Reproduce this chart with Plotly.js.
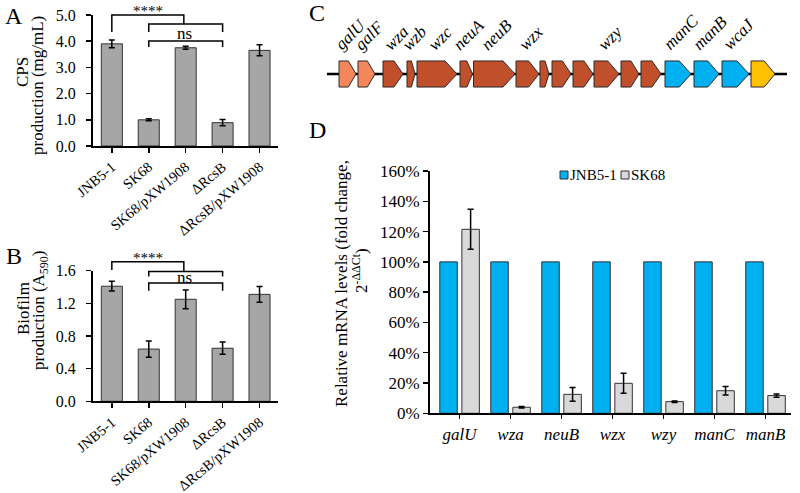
<!DOCTYPE html>
<html>
<head>
<meta charset="utf-8">
<script src="https://cdn.plot.ly/plotly-3.0.1.min.js"></script>
<style>
  html, body { margin: 0; padding: 0; background: #fff; }
  #plotly_graph { width: 800px; height: 493px; }
</style>
</head>
<body>
<div id="plotly_graph"></div>
<script>
    // *********************************************************************************************
    // DATA

    const STRAINS = ["JNB5-1", "SK68", "SK68/pXW1908", "ΔRcsB", "ΔRcsB/pXW1908"]

    const CPS = [3.90, 1.00, 3.75, 0.89, 3.65]
    const CPS_ERR = [0.15, 0.04, 0.06, 0.12, 0.21]

    const BIOFILM = [1.41, 0.64, 1.25, 0.65, 1.31]
    const BIOFILM_ERR = [0.06, 0.10, 0.115, 0.075, 0.095]

    // gene cluster (map units along the locus)
    const GENE_NAMES = ["galU", "galF", "wza", "wzb", "wzc", "neuA", "neuB", "wzx", "", "", "",
                        "wzy", "", "", "manC", "manB", "wcaJ", ""]
    const GENE_START = [12, 31, 56, 80, 90, 133, 146.5, 189, 213, 225, 246, 267, 294, 314, 338, 367, 395, 424]
    const GENE_END = [29, 48, 76, 88, 130, 145.5, 188, 212, 222, 244, 266, 292, 312, 334, 364, 392, 422, 448]
    const GENE_GROUP = ["gal", "gal", "cps", "cps", "cps", "cps", "cps", "cps", "cps", "cps", "cps",
                        "cps", "cps", "cps", "man", "man", "man", "other"]
    const LOCUS_LEN = 460

    const GENES_QPCR = ["galU", "wza", "neuB", "wzx", "wzy", "manC", "manB"]
    const JNB_REL = [100, 100, 100, 100, 100, 100, 100]
    const SK68_REL = [121.5, 4.0, 12.5, 19.8, 7.7, 14.9, 11.7]
    const SK68_ERR = [13.2, 0.5, 4.5, 6.6, 0.5, 2.8, 1.1]


    // *********************************************************************************************
    // STYLE

    const FONT = "Liberation Serif, Times New Roman, serif"
    const GREY_BAR = "#A6A6A6"
    const BAR_EDGE = "#333333"
    const JNB_COLOR = "#00B0F0"
    const SK68_COLOR = "#D9D9D9"
    const GROUP_COLORS = { gal: "#F4865C", cps: "#C0502B", man: "#00B0F0", other: "#FFC000" }

    const px = (x) => x / 800
    const py = (y) => (493 - y) / 493

    const xIdx = STRAINS.map((_, i) => i)
    const qIdx = GENES_QPCR.map((_, i) => i)

    // plot boxes (pixels) for panels A, B
    const A_TOP = 15, A_BOT = 146, A_MAX = 5
    const B_TOP = 270.7, B_BOT = 401.3, B_MAX = 1.6
    // extended (invisible) y axes with the same scale, so brackets above the top tick are not clipped
    const A_EXT = A_MAX * A_BOT / (A_BOT - A_TOP)
    const B_EXT = B_MAX * (B_BOT - 232) / (B_BOT - B_TOP)

    let data = []


    // *********************************************************************************************
    // PANEL A / B BARS

    const strainBar = (vals, errs, xa, ya) => ({
        type: "bar", x: xIdx, y: vals, width: 0.57,
        xaxis: xa, yaxis: ya,
        marker: { color: GREY_BAR, line: { color: BAR_EDGE, width: 1 } },
        error_y: { type: "data", array: errs, color: "#000", thickness: 1.5, width: 3 },
        showlegend: false, hoverinfo: "skip"
    })

    data.push(strainBar(CPS, CPS_ERR, "x", "y"))
    data.push(strainBar(BIOFILM, BIOFILM_ERR, "x2", "y2"))

    // significance brackets
    const bracket = (xs, ys, xa, ya) => ({
        type: "scatter", mode: "lines", x: xs, y: ys, xaxis: xa, yaxis: ya,
        line: { color: "#000", width: 1.5 }, cliponaxis: false,
        showlegend: false, hoverinfo: "skip"
    })

    data.push(bracket([0, 0, 1.95, 1.95], [4.35, 5.0, 5.0, 4.66], "x5", "y5"))
    data.push(bracket([1, 1, 3, 3], [4.35, 4.66, 4.66, 4.35], "x5", "y5"))
    data.push(bracket([1, 1, 3, 3], [3.78, 4.01, 4.01, 3.78], "x5", "y5"))

    data.push(bracket([0, 0, 1.95, 1.95], [1.61, 1.71, 1.71, 1.59], "x6", "y6"))
    data.push(bracket([1, 1, 3, 3], [1.53, 1.59, 1.59, 1.53], "x6", "y6"))
    data.push(bracket([1, 1, 3, 3], [1.355, 1.45, 1.45, 1.355], "x6", "y6"))


    // *********************************************************************************************
    // PANEL C GENE MAP

    data.push({
        type: "scatter", mode: "lines", x: [0, LOCUS_LEN], y: [0, 0],
        xaxis: "x3", yaxis: "y3", line: { color: "#000", width: 2.5 },
        showlegend: false, hoverinfo: "skip"
    })

    GENE_START.forEach((s, i) => {
        let e = GENE_END[i]
        let head = Math.min((e - s) * 0.45, 12)
        data.push({
            type: "scatter", mode: "lines", fill: "toself",
            x: [s, e - head, e, e - head, s, s],
            y: [-1, -1, 0, 1, 1, -1],
            xaxis: "x3", yaxis: "y3",
            fillcolor: GROUP_COLORS[GENE_GROUP[i]],
            line: { color: "#2a2a2a", width: 1 },
            showlegend: false, hoverinfo: "skip"
        })
    })


    // *********************************************************************************************
    // PANEL D QPCR

    data.push({
        type: "bar", name: "JNB5-1", x: qIdx, y: JNB_REL,
        width: 0.343, offset: -0.388,
        xaxis: "x4", yaxis: "y4",
        marker: { color: JNB_COLOR, line: { color: BAR_EDGE, width: 1 } },
        showlegend: false, hoverinfo: "skip"
    })
    data.push({
        type: "bar", name: "SK68", x: qIdx, y: SK68_REL,
        width: 0.343, offset: 0.045,
        xaxis: "x4", yaxis: "y4",
        marker: { color: SK68_COLOR, line: { color: BAR_EDGE, width: 1 } },
        error_y: { type: "data", array: SK68_ERR, color: "#000", thickness: 1.5, width: 3 },
        showlegend: false, hoverinfo: "skip"
    })


    // *********************************************************************************************
    // ANNOTATIONS

    let annotations = []

    const paperText = (text, x, y, size, angle, xanchor) => ({
        text: text, x: px(x), y: py(y), xref: "paper", yref: "paper",
        xanchor: xanchor || "center", yanchor: "middle",
        showarrow: false, textangle: angle || 0,
        font: { family: FONT, size: size, color: "#000" }
    })

    annotations.push(paperText("A", 14, 16, 24))
    annotations.push(paperText("B", 14, 256, 24))
    annotations.push(paperText("C", 317, 13, 24))
    annotations.push(paperText("D", 317, 130, 24))

    annotations.push(paperText("CPS", 22, 72, 17, -90))
    annotations.push(paperText("production (mg/mL)", 38, 86, 17, -90))
    annotations.push(paperText("Biofilm", 23, 309, 17, -90))
    annotations.push(paperText("production (A<sub>590</sub>)", 40, 311, 17, -90))
    annotations.push(paperText("Relative mRNA levels (fold change,", 342, 284, 17, -90))
    annotations.push(paperText("2<sup>-ΔΔCt</sup>)", 360, 271, 17, -90))

    // compact legend for panel D
    annotations.push(paperText("JNB5-1", 568, 175, 15, 0, "left"))
    annotations.push(paperText("SK68", 629, 175, 15, 0, "left"))

    const dataText = (text, x, y, xa, ya, size) => ({
        text: text, x: x, y: y, xref: xa, yref: ya, showarrow: false,
        xanchor: "center", yanchor: "middle",
        font: { family: FONT, size: size, color: "#000" }
    })

    annotations.push(dataText("****", 0.97, 5.15, "x5", "y5", 15))
    annotations.push(dataText("ns", 1.97, 4.31, "x5", "y5", 17))
    annotations.push(dataText("****", 0.97, 1.75, "x6", "y6", 15))
    annotations.push(dataText("ns", 1.97, 1.515, "x6", "y6", 17))

    GENE_NAMES.forEach((g, i) => {
        if (!g) return
        annotations.push({
            text: "<i>" + g + "</i>",
            x: (GENE_START[i] + GENE_END[i]) / 2 + 3, y: 1,
            xref: "x3", yref: "y3", xanchor: "center", yanchor: "bottom", yshift: 4,
            textangle: -45, showarrow: false,
            font: { family: FONT, size: 17, color: "#000" }
        })
    })

    const swatch = (x, y, color) => ({
        type: "rect", xref: "paper", yref: "paper",
        x0: px(x - 4), x1: px(x + 4), y0: py(y + 4), y1: py(y - 4),
        fillcolor: color, line: { color: BAR_EDGE, width: 1 }
    })

    let shapes = [swatch(564, 175, JNB_COLOR), swatch(625, 175, SK68_COLOR)]


    // *********************************************************************************************
    // LAYOUT

    const baseAxis = {
        showline: true, linecolor: "#000", linewidth: 2,
        ticks: "outside", ticklen: 5, tickwidth: 1.5, tickcolor: "#000",
        showgrid: false, zeroline: false, mirror: false, automargin: false,
        tickfont: { family: FONT, size: 16, color: "#000" }
    }

    const xTickFont = { family: FONT, size: 14.5, color: "#000" }
    const hiddenX = (anchor) => ({
        domain: [px(93), px(278)], range: [-0.51, 4.5], visible: false, anchor: anchor
    })

    let layout = {
        width: 800, height: 493,
        margin: { t: 0, r: 0, b: 0, l: 0 },
        paper_bgcolor: "#fff", plot_bgcolor: "rgba(0,0,0,0)",
        font: { family: FONT, color: "#000" },
        barmode: "overlay",
        showlegend: false,

        xaxis: Object.assign({}, baseAxis, {
            domain: [px(93), px(278)], range: [-0.51, 4.5], anchor: "y",
            tickvals: xIdx, ticktext: STRAINS, tickangle: -40, tickfont: xTickFont
        }),
        yaxis: Object.assign({}, baseAxis, {
            domain: [py(A_BOT), py(A_TOP)], range: [0, A_MAX], dtick: 1, tickformat: ".1f",
            anchor: "x", ticklabelstandoff: 7
        }),

        xaxis2: Object.assign({}, baseAxis, {
            domain: [px(93), px(278)], range: [-0.51, 4.5], anchor: "y2",
            tickvals: xIdx, ticktext: STRAINS, tickangle: -40, tickfont: xTickFont
        }),
        yaxis2: Object.assign({}, baseAxis, {
            domain: [py(B_BOT), py(B_TOP)], range: [0, B_MAX], dtick: 0.4, tickformat: ".1f",
            anchor: "x2", ticklabelstandoff: 7
        }),

        xaxis3: { domain: [px(327), px(787)], range: [0, LOCUS_LEN], visible: false, anchor: "y3" },
        yaxis3: { domain: [py(104), py(44)], range: [-2.3, 2.3], visible: false, anchor: "x3" },

        xaxis4: Object.assign({}, baseAxis, {
            domain: [px(430), px(791)], range: [-0.58, 6.5], anchor: "y4",
            tickvals: qIdx, ticktext: GENES_QPCR.map(g => "<i>" + g + "</i>"),
            ticklen: 4, tickfont: { family: FONT, size: 17, color: "#000" }
        }),
        yaxis4: Object.assign({}, baseAxis, {
            domain: [py(413.3), py(171)], range: [0, 160], dtick: 20, ticksuffix: "%",
            anchor: "x4", tickfont: { family: FONT, size: 17, color: "#000" }
        }),

        // bracket axes: same x scale as A / B, y extended above the top tick
        xaxis5: hiddenX("y5"),
        yaxis5: { domain: [py(A_BOT), 1], range: [0, A_EXT], visible: false, anchor: "x5" },
        xaxis6: hiddenX("y6"),
        yaxis6: { domain: [py(B_BOT), py(232)], range: [0, B_EXT], visible: false, anchor: "x6" },

        annotations: annotations,
        shapes: shapes
    }


    // *********************************************************************************************
    // CONFIG

    const config = { displaylogo: false, displayModeBar: false, staticPlot: true }


    // *********************************************************************************************
    // CREATE AND APPEND

    Plotly.newPlot(document.getElementById("plotly_graph"), data, layout, config)
</script>
</body>
</html>
